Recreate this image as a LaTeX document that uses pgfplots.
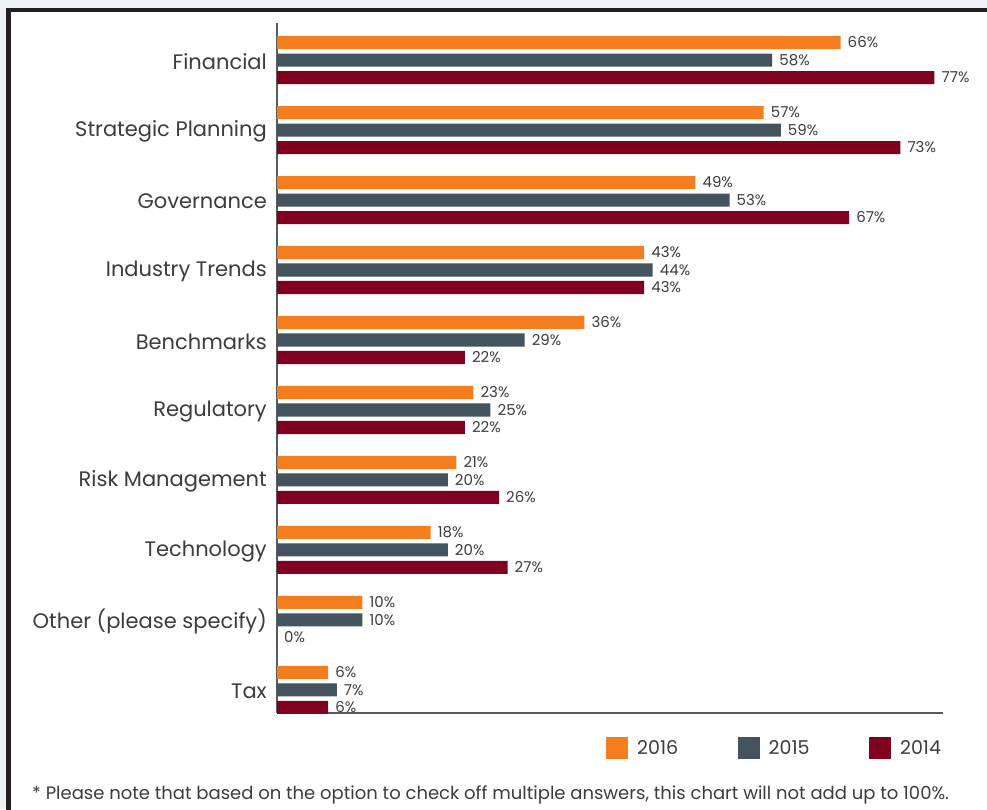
\documentclass[border=0pt]{standalone}
\usepackage{pgfplots}
\pgfplotsset{compat=1.18}
\usepackage{fontspec}
\setmainfont{Poppins}
\definecolor{c2016}{HTML}{F47D20}
\definecolor{c2015}{HTML}{44545F}
\definecolor{c2014}{HTML}{800020}
\definecolor{txt}{HTML}{3C3C3C}
\definecolor{bgpage}{HTML}{EEF1F4}
\definecolor{framecol}{HTML}{231F20}
\definecolor{axiscol}{HTML}{5A5A5A}

% share of respondents per topic (%), Financial at the top
\pgfplotstableread{
idx y2016 y2015 y2014
9 66 58 77
8 57 59 73
7 49 53 67
6 43 44 43
5 36 29 22
4 23 25 22
3 21 20 26
2 18 20 27
1 10 10 0
0 6 7 6
}\datatable

\begin{document}
\begin{tikzpicture}[x=1pt,y=1pt]
\useasboundingbox (0,0) rectangle (987,809);
\fill[bgpage] (0,0) rectangle (987,809);
\fill[white] (10.7,0) rectangle (987,796.7);
\begin{scope}
\clip (0,0) rectangle (987,809);
\draw[framecol, line width=4.3pt] (8.5,-20) -- (8.5,798.9) -- (1010,798.9);
\end{scope}
\begin{axis}[
  at={(277pt,96pt)}, anchor=south west,
  scale only axis, width=666pt, height=690pt,
  xmin=0, xmax=78, ymin=-0.329, ymax=9.529,
  xbar, bar width=0.186,
  axis x line*=bottom, axis y line*=left,
  axis line style={axiscol, line width=1.2pt},
  xtick=\empty,
  ytick={0,...,9},
  yticklabels={Tax, Other (please specify), Technology, Risk Management, Regulatory, Benchmarks, Industry Trends, Governance, Strategic Planning, Financial},
  major tick length=0pt,
  yticklabel style={font=\fontsize{21}{24}\selectfont, text=txt, inner sep=0pt, xshift=-10pt, yshift=-1.5pt},
  /pgf/number format/assume math mode=true,
  nodes near coords={\pgfmathprintnumber{\pgfplotspointmeta}\%},
  every node near coord/.append style={font=\fontsize{15}{18}\selectfont, text=txt, anchor=west, inner sep=0pt, xshift=7pt},
  legend columns=3,
  legend style={draw=none, fill=none, inner sep=0pt, at={(0.494,-0.0507)}, anchor=west,
    font=\fontsize{19}{22}\selectfont, text=txt,
    /tikz/every odd column/.append style={column sep=7pt},
    /tikz/every even column/.append style={column sep=57.5pt}},
  legend image code/.code={\fill[#1] (0pt,-11pt) rectangle (22pt,11pt);},
  clip=false,
]
\addplot[fill=c2016, draw=none, bar shift=0.25] table[x=y2016, y=idx] \datatable;
\addplot[fill=c2015, draw=none, bar shift=0] table[x=y2015, y=idx] \datatable;
\addplot[fill=c2014, draw=none, bar shift=-0.25] table[x=y2014, y=idx] \datatable;
\legend{2016, 2015, 2014}
\end{axis}
\node[anchor=base west, text=txt, font=\fontsize{18}{20}\selectfont, inner sep=0pt] at (32,10) {* Please note that based on the option to check off multiple answers, this chart will not add up to 100\%.};
\end{tikzpicture}
\end{document}
